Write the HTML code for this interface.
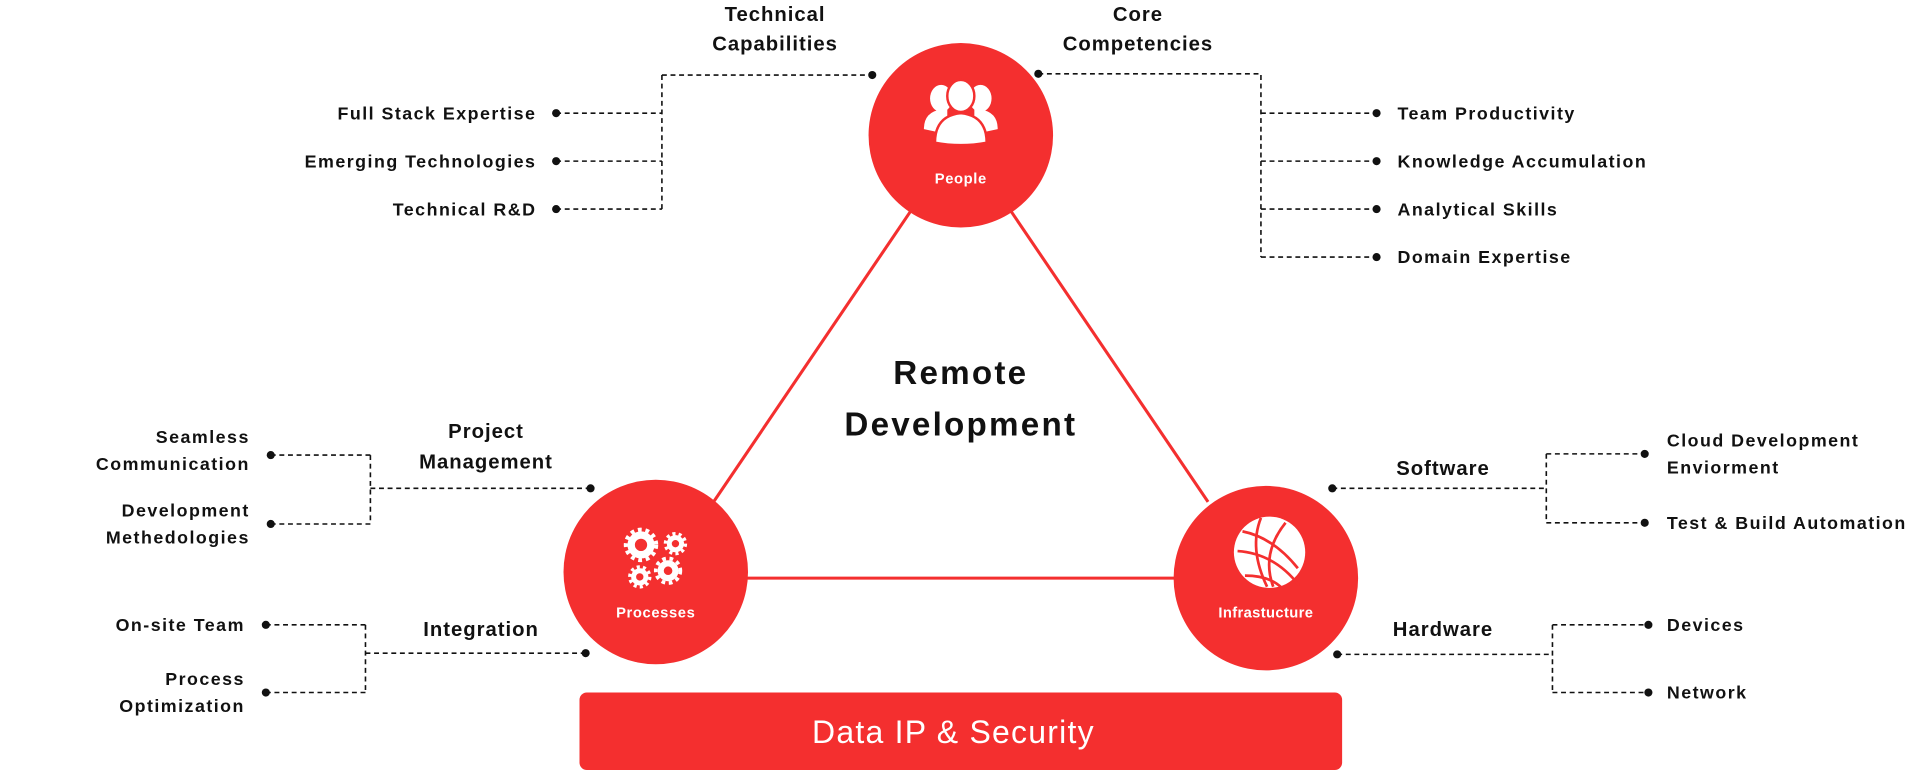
<!DOCTYPE html>
<html><head><meta charset="utf-8"><style>
html,body{margin:0;padding:0;background:#fff;}
svg{display:block;font-family:"Liberation Sans",sans-serif;}
.l{font-size:14.5px;font-weight:bold;fill:#111;letter-spacing:1.2px}
.h{font-size:16.5px;font-weight:bold;fill:#111;letter-spacing:0.8px}
.d{stroke:#111;stroke-width:1.3;stroke-dasharray:4 3;fill:none}
</style></head><body>
<svg width="1929" height="770" viewBox="0 0 1568 626" xmlns="http://www.w3.org/2000/svg">
<g stroke="#f42f2f" stroke-width="2.5">
<line x1="740" y1="172" x2="580" y2="408"/>
<line x1="822" y1="172" x2="982" y2="408"/>
<line x1="600" y1="470" x2="960" y2="470"/>
</g>
<g fill="#f42f2f">
<circle cx="781" cy="110" r="75"/>
<circle cx="533" cy="465" r="75"/>
<circle cx="1029" cy="470" r="75"/>
<rect x="471" y="563" width="620" height="63" rx="6"/>
</g>
<g fill="#fff">
<ellipse cx="765" cy="80" rx="9" ry="11"/><ellipse cx="797" cy="80" rx="9" ry="11"/>
<path d="M751 105 q0 -14 14 -16 l5 0 l0 20 z"/><path d="M811 105 q0 -14 -14 -16 l-5 0 l0 20 z"/>
<ellipse cx="781" cy="78" rx="11" ry="13" stroke="#f42f2f" stroke-width="2"/>
<path d="M760 116 q0 -22 21 -24 q21 2 21 24 q-21 4 -42 0z" stroke="#f42f2f" stroke-width="2"/>
</g>
<text x="781" y="149" text-anchor="middle" fill="#fff" font-size="12" font-weight="bold" letter-spacing="0.5">People</text>
<g fill="none" stroke="#fff">
<circle cx="521" cy="443" r="8" stroke-width="6"/><circle cx="521" cy="443" r="12" stroke-width="4" stroke-dasharray="3 3"/>
<circle cx="549" cy="442" r="5" stroke-width="4"/><circle cx="549" cy="442" r="8" stroke-width="3" stroke-dasharray="2.5 2.5"/>
<circle cx="543" cy="464" r="6" stroke-width="5"/><circle cx="543" cy="464" r="10" stroke-width="3" stroke-dasharray="3 3"/>
<circle cx="520" cy="469" r="5" stroke-width="4"/><circle cx="520" cy="469" r="8" stroke-width="3" stroke-dasharray="2.5 2.5"/>
</g>
<text x="533" y="502" text-anchor="middle" fill="#fff" font-size="12" font-weight="bold" letter-spacing="0.5">Processes</text>
<circle cx="1032" cy="449" r="29" fill="#fff"/>
<g stroke="#f42f2f" stroke-width="2.2" fill="none">
<path d="M1010 432 q25 5 45 30"/><path d="M1006 448 q30 2 50 28"/><path d="M1012 468 q20 0 30 10"/>
<path d="M1025 421 q-10 25 5 56"/><path d="M1045 425 q-20 25 -10 52"/>
</g>
<text x="1029" y="502" text-anchor="middle" fill="#fff" font-size="12" font-weight="bold" letter-spacing="0.3">Infrastucture</text>
<text x="781" y="312" text-anchor="middle" font-size="27" font-weight="bold" fill="#111" letter-spacing="1.8">Remote</text>
<text x="781" y="354" text-anchor="middle" font-size="27" font-weight="bold" fill="#111" letter-spacing="1.8">Development</text>
<text x="775" y="604" text-anchor="middle" font-size="26" fill="#fff" letter-spacing="1">Data IP &amp; Security</text>
<g class="d">
<path d="M452 92H538M452 131H538M452 170H538M538 61V170M538 61H709"/>
<path d="M844 60H1025V209M1025 92H1119M1025 131H1119M1025 170H1119M1025 209H1119"/>
<path d="M220 370H301M220 426H301M301 370V426M301 397H480"/>
<path d="M216 508H297M216 563H297M297 508V563M297 531H476"/>
<path d="M1083 397H1257M1257 369V425M1257 369H1337M1257 425H1337"/>
<path d="M1087 532H1262M1262 508V563M1262 508H1340M1262 563H1340"/>
</g>
<g fill="#111">
<circle cx="452" cy="92" r="3.3"/><circle cx="452" cy="131" r="3.3"/><circle cx="452" cy="170" r="3.3"/><circle cx="709" cy="61" r="3.3"/>
<circle cx="844" cy="60" r="3.3"/><circle cx="1119" cy="92" r="3.3"/><circle cx="1119" cy="131" r="3.3"/><circle cx="1119" cy="170" r="3.3"/><circle cx="1119" cy="209" r="3.3"/>
<circle cx="220" cy="370" r="3.3"/><circle cx="220" cy="426" r="3.3"/><circle cx="480" cy="397" r="3.3"/>
<circle cx="216" cy="508" r="3.3"/><circle cx="216" cy="563" r="3.3"/><circle cx="476" cy="531" r="3.3"/>
<circle cx="1083" cy="397" r="3.3"/><circle cx="1337" cy="369" r="3.3"/><circle cx="1337" cy="425" r="3.3"/>
<circle cx="1087" cy="532" r="3.3"/><circle cx="1340" cy="508" r="3.3"/><circle cx="1340" cy="563" r="3.3"/>
</g>
<g class="h" text-anchor="middle">
<text x="630" y="17">Technical</text><text x="630" y="41">Capabilities</text>
<text x="925" y="17">Core</text><text x="925" y="41">Competencies</text>
<text x="395" y="356">Project</text><text x="395" y="381">Management</text>
<text x="391" y="517">Integration</text>
<text x="1173" y="386">Software</text>
<text x="1173" y="517">Hardware</text>
</g>
<g class="l" text-anchor="end">
<text x="436" y="97">Full Stack Expertise</text>
<text x="436" y="136">Emerging Technologies</text>
<text x="436" y="175">Technical R&amp;D</text>
<text x="203" y="360">Seamless</text><text x="203" y="382">Communication</text>
<text x="203" y="420">Development</text><text x="203" y="442">Methedologies</text>
<text x="199" y="513">On-site Team</text>
<text x="199" y="557">Process</text><text x="199" y="579">Optimization</text>
</g>
<g class="l">
<text x="1136" y="97">Team Productivity</text>
<text x="1136" y="136">Knowledge Accumulation</text>
<text x="1136" y="175">Analytical Skills</text>
<text x="1136" y="214">Domain Expertise</text>
<text x="1355" y="363">Cloud Development</text><text x="1355" y="385">Enviorment</text>
<text x="1355" y="430">Test &amp; Build Automation</text>
<text x="1355" y="513">Devices</text>
<text x="1355" y="568">Network</text>
</g>
</svg>
</body></html>
